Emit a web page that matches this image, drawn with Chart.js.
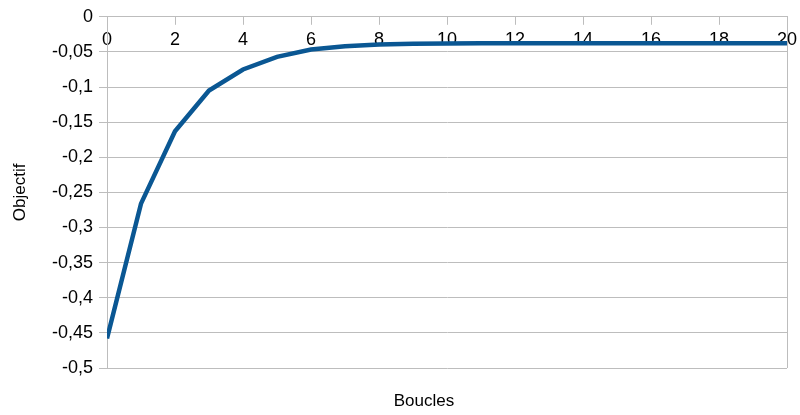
<!DOCTYPE html>
<html>
<head>
<meta charset="utf-8">
<script src="https://cdn.jsdelivr.net/npm/chart.js@4/dist/chart.umd.min.js"></script>
<style>
  html, body { margin: 0; padding: 0; background: #ffffff; }
  #wrap { width: 800px; height: 415px; }
</style>
</head>
<body>
<div id="wrap"><canvas id="c" width="800" height="415"></canvas></div>
<script>
// Data
const boucles = [0, 1, 2, 3, 4, 5, 6, 7, 8, 9, 10, 11, 12, 13, 14, 15, 16, 17, 18, 19, 20];
const objectif = [-0.458, -0.266, -0.163, -0.105, -0.075, -0.057, -0.0465, -0.042, -0.0395, -0.0385,
                  -0.038, -0.0375, -0.0375, -0.0375, -0.0375, -0.0375, -0.0375, -0.0375, -0.0375, -0.0375, -0.0375];
const xTitle = 'Boucles';
const yTitle = 'Objectif';

const gridColor = '#bdbdbd';
const fontFamily = '"Liberation Sans", Arial, sans-serif';

const points = boucles.map((b, i) => ({ x: b, y: objectif[i] }));

new Chart(document.getElementById('c'), {
  type: 'line',
  data: {
    datasets: [{
      data: points,
      borderColor: '#0a5793',
      borderWidth: 4.5,
      pointRadius: 0,
      tension: 0,
      fill: false
    }]
  },
  options: {
    responsive: false,
    animation: false,
    devicePixelRatio: 1,
    layout: { padding: { left: 48, right: 0, top: 0, bottom: 0 } },
    plugins: {
      legend: { display: false },
      tooltip: { enabled: false },
      title: {
        display: true,
        position: 'bottom',
        text: xTitle,
        color: '#000',
        font: { family: fontFamily, size: 17, weight: 'normal' },
        padding: { top: 23.3, bottom: 3.3 }
      }
    },
    scales: {
      x: {
        type: 'linear',
        position: 'top',
        min: 0,
        max: 20,
        ticks: {
          stepSize: 2,
          mirror: true,
          padding: 12.5,
          color: '#000',
          maxRotation: 0,
          font: { family: fontFamily, size: 18 }
        },
        grid: {
          drawOnChartArea: true,
          color: (ctx) => (ctx.tick && ctx.tick.value === 20 ? gridColor : 'rgba(0,0,0,0)'),
          tickColor: gridColor,
          tickLength: -8,
          lineWidth: 1
        },
        border: { display: true, color: gridColor, width: 1 },
        afterFit: (scale) => { scale.height = 15; scale.paddingRight = 13; }
      },
      y: {
        type: 'linear',
        min: -0.5,
        max: 0,
        ticks: {
          stepSize: 0.05,
          padding: 6,
          color: '#000',
          font: { family: fontFamily, size: 18 },
          callback: (v) => String(Math.round(v * 100) / 100).replace('.', ',')
        },
        grid: {
          color: gridColor,
          tickColor: gridColor,
          tickLength: 8,
          lineWidth: 1
        },
        border: { display: true, color: gridColor, width: 1 },
        title: {
          display: true,
          text: yTitle,
          color: '#000',
          font: { family: fontFamily, size: 17 },
          padding: { top: -38.2, bottom: 0 }
        },
        afterFit: (scale) => { scale.width = 59; }
      }
    }
  }
});
</script>
</body>
</html>
